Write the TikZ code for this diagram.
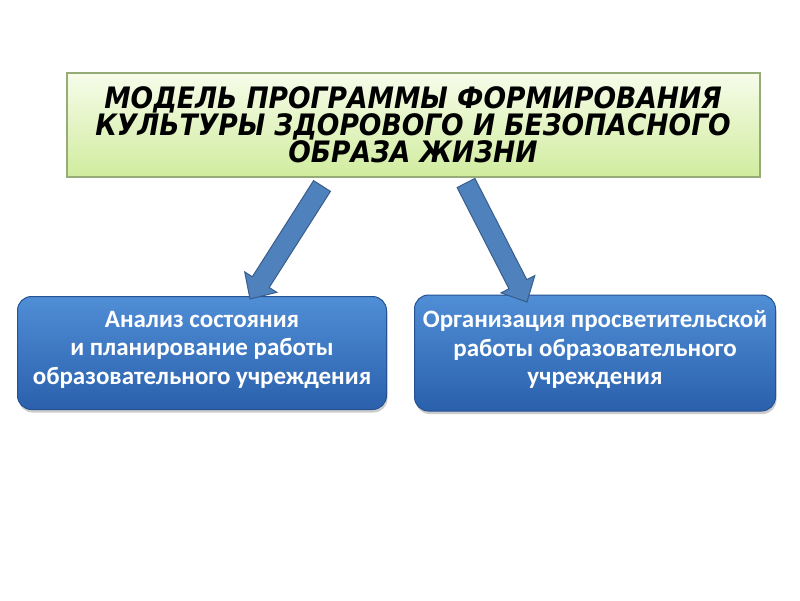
\documentclass[tikz,border=0pt]{standalone}
\usepackage{fontspec}
\setmainfont{Carlito}
\newfontfamily\titlefont{DejaVu Sans Condensed}
\usetikzlibrary{calc,shadows}

\definecolor{titletop}{RGB}{247,252,234}
\definecolor{titlebottom}{RGB}{208,236,158}
\definecolor{titleline}{RGB}{150,172,120}
\definecolor{boxtop}{RGB}{80,142,214}
\definecolor{boxbottom}{RGB}{42,96,172}
\definecolor{boxline}{RGB}{38,82,146}
\definecolor{arrowfill}{RGB}{79,129,189}
\definecolor{arrowline}{RGB}{56,93,138}

\begin{document}
\begin{tikzpicture}[x=1pt,y=-1pt,
    titlebox/.style={draw=titleline, line width=2pt, top color=titletop,
      bottom color=titlebottom, align=center, inner sep=0pt,
      font=\titlefont\bfseries\itshape\fontsize{29.5}{27}\selectfont},
    bluebox/.style={draw=boxline, line width=1pt, rounded corners=14pt,
      top color=boxtop, bottom color=boxbottom, text=white, align=center,
      inner sep=0pt, font=\bfseries\fontsize{25}{28.5}\selectfont,
      text depth=11pt,
      drop shadow={opacity=0.4, shadow xshift=1pt, shadow yshift=-3pt}},
    bigarrow/.style={fill=arrowfill, draw=arrowline, line width=1pt, line join=miter}]
  \fill[white] (0,0) rectangle (800,600);
  \useasboundingbox (0,0) rectangle (800,600);

  % Title
  \node[titlebox, minimum width=693pt, minimum height=104pt] (title) at (413,125)
    {МОДЕЛЬ ПРОГРАММЫ ФОРМИРОВАНИЯ\\КУЛЬТУРЫ ЗДОРОВОГО И БЕЗОПАСНОГО\\ОБРАЗА ЖИЗНИ};

  % Two directions
  \node[bluebox, minimum width=369pt, minimum height=113pt] (analysis) at (202,353)
    {Анализ состояния\\и планирование работы\\образовательного учреждения};
  \node[bluebox, minimum width=361pt, minimum height=116pt] (organization) at (595,353)
    {Организация просветительской\\работы образовательного\\учреждения};

  % Arrows from the title down to the boxes
  \coordinate (t1) at (322,186);
  \coordinate (h1) at (250,299);
  \coordinate (t2) at (466,183);
  \coordinate (h2) at (527,302);
  \foreach \a/\b in {t1/h1, t2/h2} {
    \coordinate (base) at ($(\b)!20pt!(\a)$);
    \draw[bigarrow] ($(\a)!10pt!90:(\b)$) -- ($(base)!10pt!-90:(\a)$)
      -- ($(base)!19pt!-90:(\a)$) -- (\b) -- ($(base)!19pt!90:(\a)$)
      -- ($(base)!10pt!90:(\a)$) -- ($(\a)!10pt!-90:(\b)$) -- cycle;
  }
\end{tikzpicture}
\end{document}
